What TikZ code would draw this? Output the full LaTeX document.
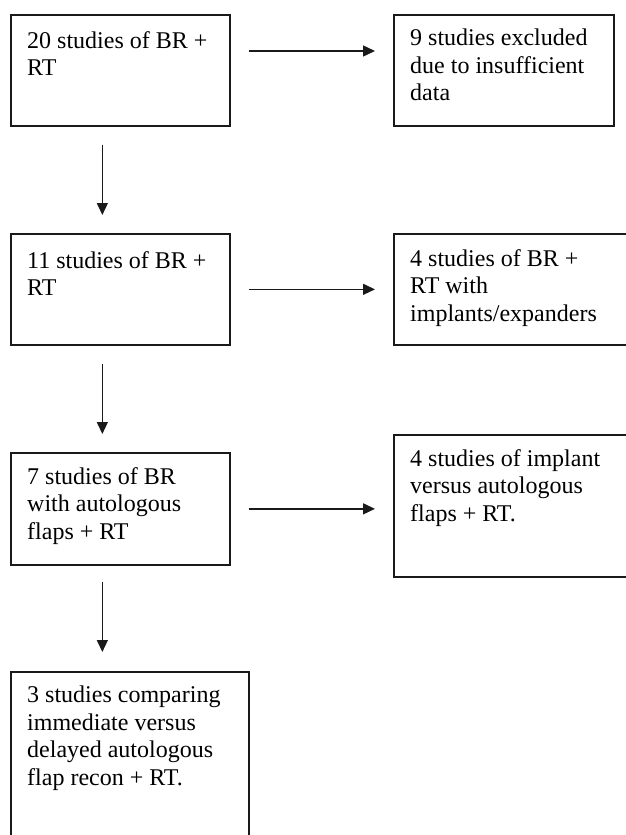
\documentclass[tikz,border=0pt]{standalone}
\usepackage{fontspec}
\setmainfont{Liberation Serif}
\usetikzlibrary{arrows.meta}
\definecolor{ink}{HTML}{1A1A1A}
\tikzset{
  box/.style={draw=ink, line width=1.7pt, rectangle, anchor=north west, inner sep=0pt},
  txt/.style={anchor=north west, inner sep=0pt, align=left, text=black,
              font=\fontsize{24}{27.5}\selectfont},
  arr/.style={draw=ink, line width=1.4pt, -{Triangle[length=12pt,width=11pt]},
              shorten <=18pt, shorten >=18pt},
}
\begin{document}
\begin{tikzpicture}[x=1pt,y=-1pt]
\useasboundingbox (0,0) rectangle (626,835);
\clip (0,0) rectangle (626,835);
\fill[white] (0,0) rectangle (626,835);
% boxes
\node[box, minimum width=219pt, minimum height=111pt] (a) at (10,14) {};
\node[box, minimum width=220pt, minimum height=111pt] (b) at (393,14) {};
\node[box, minimum width=219pt, minimum height=111pt] (c) at (10,233) {};
\node[box, minimum width=250pt, minimum height=111pt] (d) at (393,233) {};
\node[box, minimum width=219pt, minimum height=112pt] (e) at (10,452) {};
\node[box, minimum width=250pt, minimum height=142pt] (f) at (393,434) {};
\node[box, minimum width=238pt, minimum height=200pt] (g) at (10,671) {};
% texts
\node[txt] (ta) at ([xshift=17pt,yshift=-17pt]a.north west) {20 studies of BR +\\RT};
\node[txt] (tb) at ([xshift=17pt,yshift=-15pt]b.north west) {9 studies excluded\\due to insufficient\\data};
\node[txt] (tc) at ([xshift=17pt,yshift=-18pt]c.north west) {11 studies of BR +\\RT};
\node[txt] (td) at ([xshift=17pt,yshift=-16pt]d.north west) {4 studies of BR +\\RT with\\implants/expanders};
\node[txt] (te) at ([xshift=17pt,yshift=-15pt]e.north west) {7 studies of BR\\with autologous\\flaps + RT};
\node[txt] (tf) at ([xshift=17pt,yshift=-15pt]f.north west) {4 studies of implant\\versus autologous\\flaps + RT.};
\node[txt] (tg) at ([xshift=17pt,yshift=-15pt]g.north west) {3 studies comparing\\immediate versus\\delayed autologous\\flap recon + RT.};
% connectors
\draw[arr] ([yshift=-37pt]a.north east) -- ([yshift=-37pt]b.north west);
\draw[arr] (c.east) -- (c.east -| d.west);
\draw[arr] (e.east) -- (e.east -| f.west);
\draw[arr] ([xshift=-18pt]a.south) -- ([xshift=-18pt]c.north);
\draw[arr] ([xshift=-18pt]c.south) -- ([xshift=-18pt]e.north);
\draw[arr, shorten <=16pt, shorten >=19pt] ([xshift=-18pt]e.south) -- ([xshift=-18pt]e.south |- g.north);
\end{tikzpicture}
\end{document}
